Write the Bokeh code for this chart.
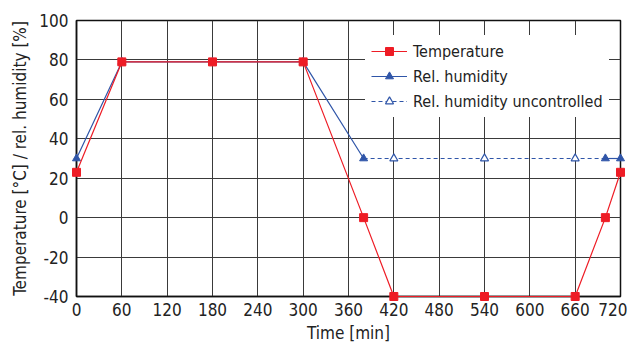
from bokeh.plotting import figure
from bokeh.models import Range1d, FixedTicker, Legend, LegendItem
from bokeh.embed import file_html
from bokeh.resources import INLINE

# data
temp_t = [0, 60, 180, 300, 380, 420, 540, 660, 700, 720]
temp_v = [23, 79, 79, 79, 0, -40, -40, -40, 0, 23]
hum1_t = [0, 60, 180, 300, 380]
hum1_v = [30, 79, 79, 79, 30]
hum2_t = [700, 720]
hum2_v = [30, 30]
unc_t = [380, 420, 540, 660, 700]
unc_v = [30, 30, 30, 30, 30]
unc_marker_t = [420, 540, 660]
unc_marker_v = [30, 30, 30]
x_ticks = list(range(0, 721, 60))
y_ticks = list(range(-40, 101, 20))
y_tick_labels = {v: str(v) for v in y_ticks}

RED = "#ee1c25"
BLUE = "#2f55a8"
FONT = "DejaVu Sans Condensed"

p = figure(width=627, height=347, output_backend="svg", toolbar_location=None,
           x_range=Range1d(0, 720), y_range=Range1d(-40, 100),
           min_border_left=76, min_border_right=7, min_border_top=20, min_border_bottom=51)

p.xaxis.ticker = FixedTicker(ticks=x_ticks)
p.yaxis.ticker = FixedTicker(ticks=y_ticks)
p.yaxis.major_label_overrides = y_tick_labels
for ax in (p.xaxis[0], p.yaxis[0]):
    ax.major_label_text_font = FONT
    ax.major_label_text_font_size = "17px"
    ax.major_label_text_color = "#222222"
    ax.axis_label_text_font = FONT
    ax.axis_label_text_font_size = "17px"
    ax.axis_label_text_font_style = "normal"
    ax.axis_label_text_color = "#222222"
    ax.major_tick_out = 0
    ax.major_tick_in = 0
    ax.minor_tick_out = 0
    ax.minor_tick_in = 0
    ax.axis_line_color = "#111111"
    ax.axis_line_width = 1.5
p.xaxis.axis_label = "Time [min]"
p.yaxis.axis_label = "Temperature [°C] / rel. humidity [%]"
p.xaxis.axis_label_standoff = 4
p.yaxis.axis_label_standoff = 6
p.xaxis.major_label_standoff = 6
p.yaxis.major_label_standoff = 8

p.grid.grid_line_color = "#3a3a3a"
p.grid.grid_line_width = 1
p.outline_line_color = "#111111"
p.outline_line_width = 1.5

# humidity
r_h1 = p.line(hum1_t, hum1_v, color=BLUE, line_width=1.2, level="overlay")
r_h2 = p.line(hum2_t, hum2_v, color=BLUE, line_width=1.2, level="overlay")
r_hm1 = p.scatter(hum1_t, hum1_v, marker="triangle", size=8, color=BLUE, level="overlay")
r_hm2 = p.scatter(hum2_t, hum2_v, marker="triangle", size=8, color=BLUE, level="overlay")
r_u = p.line(unc_t, unc_v, color=BLUE, line_width=1.2, line_dash="4 3", level="overlay")
r_um = p.scatter(unc_marker_t, unc_marker_v, marker="triangle", size=8,
                 line_color=BLUE, fill_color="white", line_width=1.2, level="overlay")

# temperature
r_t = p.line(temp_t, temp_v, color=RED, line_width=1.2, level="overlay")
r_tm = p.scatter(temp_t, temp_v, marker="square", size=8, color=RED, level="overlay")

legend = Legend(items=[
    LegendItem(label="Temperature", renderers=[r_t, r_tm]),
    LegendItem(label="Rel. humidity", renderers=[r_h1, r_hm1]),
    LegendItem(label="Rel. humidity uncontrolled", renderers=[r_u, r_um]),
], location=(289, 179))
legend.label_text_font = FONT
legend.label_text_font_size = "16px"
legend.label_text_color = "#222222"
legend.border_line_alpha = 0
legend.background_fill_color = "white"
legend.background_fill_alpha = 1
legend.glyph_width = 36
legend.glyph_height = 20
legend.label_height = 20
legend.spacing = 5
legend.padding = 6
legend.margin = 0
legend.label_standoff = 6
p.add_layout(legend)

open("out.html", "w").write(file_html(p, INLINE))
